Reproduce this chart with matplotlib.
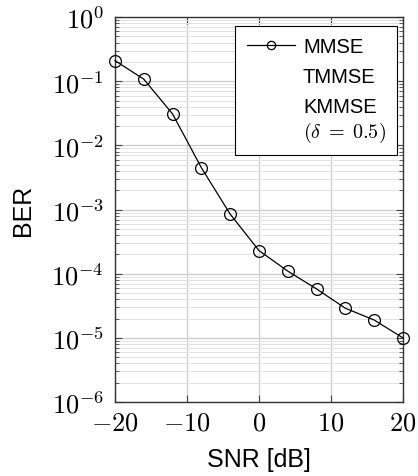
import matplotlib
matplotlib.use("Agg")
import matplotlib.pyplot as plt
from matplotlib.lines import Line2D
import numpy as np

snr_db = [-20, -16, -12, -8, -4, 0, 4, 8, 12, 16, 20]
ber_mmse = [2.1e-1, 1.08e-1, 3.1e-2, 4.5e-3, 8.5e-4, 2.3e-4, 1.1e-4, 5.8e-5, 2.9e-5, 1.9e-5, 1.0e-5]
legend_labels = ['MMSE', 'TMMSE', 'KMMSE\n$(\\delta\\;=\\;0.5)$']

plt.rcParams['mathtext.fontset'] = 'cm'
plt.rcParams['font.family'] = ['Liberation Sans', 'DejaVu Sans']

fig = plt.figure(figsize=(4.18, 4.77), dpi=100)
ax = fig.add_axes([0.275, 0.155, 0.689, 0.807])

ax.plot(snr_db, ber_mmse, color='black', linewidth=0.9, marker='o', markersize=8.5,
        markerfacecolor='none', markeredgecolor='black', markeredgewidth=0.9, zorder=3,
        clip_on=False)

ax.set_yscale('log')
ax.set_xlim(-20, 20)
ax.set_ylim(1e-6, 1e0)
ax.set_xticks([-20, -10, 0, 10, 20])
ax.set_xticklabels(['$-20$', '$-10$', '$0$', '$10$', '$20$'])
ax.set_yticks([10.0 ** k for k in range(-6, 1)])
ax.set_yticklabels(['$10^{%d}$' % k for k in range(-6, 1)])
ax.tick_params(axis='both', which='major', direction='in', labelsize=19, length=5,
               top=True, right=True, width=0.8, color='#444444')
ax.tick_params(axis='x', which='major', pad=6)
ax.tick_params(axis='y', which='major', pad=8)
ax.tick_params(axis='y', which='minor', direction='in', length=3, right=True,
               width=0.6, color='#444444')
ax.tick_params(axis='x', which='minor', bottom=False, top=False)

ax.grid(True, which='major', color='#cccccc', linewidth=0.9)
ax.grid(True, which='minor', axis='y', color='#e2e2e2', linewidth=0.7)
ax.set_axisbelow(True)
for s in ax.spines.values():
    s.set_color('#333333')
    s.set_linewidth(1.0)

ax.set_xlabel('SNR [dB]', fontsize=18, labelpad=9)
ax.set_ylabel('BER', fontsize=18, labelpad=12)

handles = [Line2D([], [], color='black', linewidth=0.9, marker='o', markersize=6,
                  markerfacecolor='none', markeredgecolor='black', markeredgewidth=0.9),
           Line2D([], [], linestyle='none'),
           Line2D([], [], linestyle='none')]
leg = ax.legend(handles, legend_labels, loc='upper right', fontsize=14.5,
                frameon=True, fancybox=False, edgecolor='black', framealpha=1,
                handlelength=2.4, handletextpad=0.4, borderpad=0.55, labelspacing=0.55,
                borderaxespad=0, bbox_to_anchor=(0.979, 0.977))
leg.get_frame().set_linewidth(0.8)

fig.savefig('out.png', dpi=100)
